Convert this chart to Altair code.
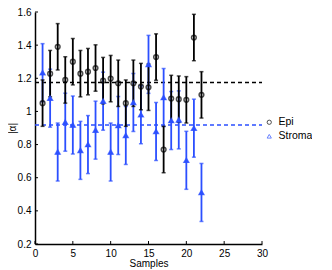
import altair as alt
import pandas as pd

samples = list(range(1, 23))
epi_vals = [1.05, 1.228, 1.39, 1.19, 1.30, 1.228, 1.24, 1.262, 1.186, 1.198, 1.17,
            1.05, 1.17, 1.15, 1.146, 1.328, 0.77, 1.078, 1.074, 1.07, 1.446, 1.10]
epi_err = [0.14] * 22
stroma_vals = [1.234, 1.08, 0.755, 0.935, 0.918, 0.765, 0.80, 0.887, 1.062, 0.755, 0.915,
               0.855, 1.054, 0.98, 1.284, 0.879, 1.084, 0.945, 0.949, 0.705, 0.899, 0.511]
stroma_err = [0.175] * 22
epi_avg = 1.174
stroma_avg = 0.918
x_ticks = [0, 5, 10, 15, 20, 25, 30]
y_ticks = [0.2, 0.4, 0.6, 0.8, 1.0, 1.2, 1.4, 1.6]

BLUE = "#2b4fff"

rows = []
for s, v, e in zip(samples, epi_vals, epi_err):
    rows.append({"s": s, "v": v, "lo": v - e, "hi": v + e, "g": "Epi"})
for s, v, e in zip(samples, stroma_vals, stroma_err):
    rows.append({"s": s, "v": v, "lo": v - e, "hi": v + e, "g": "Stroma"})
df = pd.DataFrame(rows)
df_st = df[df.g == "Stroma"]
df_ep = df[df.g == "Epi"]

xs = alt.Scale(domain=[0, 30], nice=False, zero=False)
ys = alt.Scale(domain=[0.2, 1.6], nice=False, zero=False)
cs = alt.Scale(domain=["Epi", "Stroma"], range=["black", BLUE])
ss = alt.Scale(domain=["Epi", "Stroma"], range=["circle", "triangle-up"])

xax = alt.Axis(values=x_ticks, title="Samples", labelPadding=4, titlePadding=0,
               labelOverlap=False)
yax = alt.Axis(values=y_ticks, title="|α|", labelPadding=4, titlePadding=0,
               labelExpr="format(datum.value, '.1~f')", labelOverlap=False)

def X(f):
    return alt.X(f, scale=xs, axis=xax)

def Y(f):
    return alt.Y(f, scale=ys, axis=yax)

def bars(d, color):
    b = alt.Chart(d)
    rule = b.mark_rule(color=color, strokeWidth=1.8).encode(
        x=X("s:Q"), y=Y("lo:Q"), y2="hi:Q")
    cap_hi = b.mark_tick(color=color, size=4, thickness=1.5, orient="horizontal").encode(
        x=X("s:Q"), y=Y("hi:Q"))
    cap_lo = b.mark_tick(color=color, size=4, thickness=1.5, orient="horizontal").encode(
        x=X("s:Q"), y=Y("lo:Q"))
    return [rule, cap_hi, cap_lo]

mean_epi = alt.Chart(pd.DataFrame({"x0": [0], "x1": [30], "v": [epi_avg]})).mark_rule(
    strokeDash=[4, 3], strokeWidth=1.5, color="black").encode(
    x=X("x0:Q"), x2="x1:Q", y=Y("v:Q"))
mean_st = alt.Chart(pd.DataFrame({"x0": [0], "x1": [30], "v": [stroma_avg]})).mark_rule(
    strokeDash=[4, 3], strokeWidth=1.5, color=BLUE).encode(
    x=X("x0:Q"), x2="x1:Q", y=Y("v:Q"))

leg = alt.Legend(title=None, orient="none", legendX=229, legendY=105, symbolSize=18,
                 symbolStrokeWidth=1, labelFontSize=10.5, labelFont="Liberation Sans",
                 labelColor="black", rowPadding=3, symbolOffset=0)
pts = alt.Chart(df).mark_point(filled=False, strokeWidth=1.5, size=22).encode(
    x=X("s:Q"), y=Y("v:Q"),
    color=alt.Color("g:N", scale=cs, legend=leg),
    shape=alt.Shape("g:N", scale=ss, legend=leg))
tri = alt.Chart(df_st).mark_point(filled=True, size=30, shape="triangle-up", color=BLUE, opacity=1).encode(
    x=X("s:Q"), y=Y("v:Q"))

xt_df = pd.DataFrame({"t": x_ticks, "a": [0.2] * len(x_ticks), "b": [0.218] * len(x_ticks)})
yt_df = pd.DataFrame({"t": y_ticks, "a": [0] * len(y_ticks), "b": [0.4] * len(y_ticks)})
xticks = alt.Chart(xt_df).mark_rule(color="black", strokeWidth=1).encode(
    x=X("t:Q"), y=Y("a:Q"), y2="b:Q")
yticks = alt.Chart(yt_df).mark_rule(color="black", strokeWidth=1).encode(
    y=Y("t:Q"), x=X("a:Q"), x2="b:Q")

chart = alt.layer(
    mean_epi, mean_st, *bars(df_st, BLUE), *bars(df_ep, "black"), pts, tri, xticks, yticks
).properties(
    width=227, height=232,
    autosize=alt.AutoSizeParams(type="none"),
    padding={"left": 27, "top": 4, "right": 50, "bottom": 25},
    background="white",
).configure_view(stroke=None).configure_axis(
    grid=False, tickSize=0, labelOverlap=False, labelFontSize=10, titleFontSize=10,
    titleFontWeight="normal", domainColor="black", domainWidth=1.5, labelColor="black",
    titleColor="black", labelFont="Liberation Sans", titleFont="Liberation Sans",
    labelFlush=False,
)

chart.save("out.html", embed_options={"renderer": "svg", "actions": False})
